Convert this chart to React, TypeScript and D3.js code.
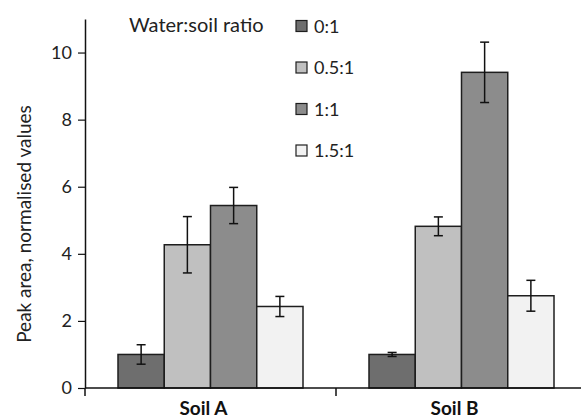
import React, { useEffect, useRef } from 'react';
import * as d3 from 'd3';

const soils = ['Soil A', 'Soil B'];
const ratios = ['0:1', '0.5:1', '1:1', '1.5:1'];
const ratioColors = ['#6e6e6e', '#c0c0c0', '#8c8c8c', '#f2f2f2'];
// values per ratio, in soil order
const means = [
  [1.0, 1.0],
  [4.27, 4.82],
  [5.44, 9.41],
  [2.43, 2.75],
];
const errors = [
  [0.29, 0.06],
  [0.84, 0.28],
  [0.54, 0.9],
  [0.3, 0.46],
];
const yTicks = [0, 2, 4, 6, 8, 10];

const FONT = 'Lato, "Open Sans", sans-serif';

const App = () => {
  const svgRef = useRef<SVGSVGElement>(null);

  useEffect(() => {
    const width = 581;
    const height = 419;
    const margin = { top: 19, right: -6, bottom: 31, left: 85 };
    const innerW = width - margin.left - margin.right;
    const innerH = height - margin.top - margin.bottom;

    const root = d3.select(svgRef.current);
    root.selectAll('*').remove();
    root.attr('width', width).attr('height', height);

    const svg = root
      .append('g')
      .attr('transform', `translate(${margin.left}, ${margin.top})`);

    const x0 = d3.scaleBand().domain(soils).range([0, innerW]).paddingInner(0).paddingOuter(0);
    const x1 = d3
      .scaleBand()
      .domain(ratios)
      .range([33, x0.bandwidth() - 33])
      .padding(0);
    const y = d3.scaleLinear().domain([0, 11]).range([innerH, 0]);

    // bars
    ratios.forEach((r, ri) => {
      soils.forEach((s, si) => {
        const v = means[ri][si];
        const e = errors[ri][si];
        const bx = x0(s)! + x1(r)!;
        svg
          .append('rect')
          .attr('x', bx)
          .attr('y', y(v))
          .attr('width', x1.bandwidth())
          .attr('height', innerH - y(v))
          .attr('fill', ratioColors[ri])
          .attr('stroke', '#1e1e1e')
          .attr('stroke-width', 1.5);

        const cx = bx + x1.bandwidth() / 2;
        const g = svg.append('g').attr('stroke', '#111').attr('stroke-width', 1.5);
        g.append('line').attr('x1', cx).attr('x2', cx).attr('y1', y(v + e)).attr('y2', y(v - e));
        g.append('line').attr('x1', cx - 4.5).attr('x2', cx + 4.5).attr('y1', y(v + e)).attr('y2', y(v + e));
        g.append('line').attr('x1', cx - 4.5).attr('x2', cx + 4.5).attr('y1', y(v - e)).attr('y2', y(v - e));
      });
    });

    // y axis
    const yAxis = svg
      .append('g')
      .call(d3.axisLeft(y).tickValues(yTicks).tickSize(7).tickPadding(6).tickSizeOuter(0));
    yAxis.select('.domain').attr('stroke', '#111').attr('stroke-width', 1.5);
    yAxis.selectAll('.tick line').attr('stroke', '#111').attr('stroke-width', 1.2);
    yAxis
      .selectAll('.tick text')
      .attr('fill', '#222')
      .style('font-family', FONT)
      .style('font-size', '18px');
    // y axis extends a little below zero
    svg
      .append('line')
      .attr('x1', 0)
      .attr('x2', 0)
      .attr('y1', innerH)
      .attr('y2', innerH + 8)
      .attr('stroke', '#111')
      .attr('stroke-width', 1.5);

    // x axis
    svg
      .append('line')
      .attr('x1', 0)
      .attr('x2', innerW)
      .attr('y1', innerH)
      .attr('y2', innerH)
      .attr('stroke', '#111')
      .attr('stroke-width', 1.5);
    soils.slice(1).forEach(s => {
      svg
        .append('line')
        .attr('x1', x0(s)!)
        .attr('x2', x0(s)!)
        .attr('y1', innerH)
        .attr('y2', innerH + 8)
        .attr('stroke', '#111')
        .attr('stroke-width', 1.5);
    });
    svg
      .selectAll('.xlabel')
      .data(soils)
      .enter()
      .append('text')
      .attr('x', d => x0(d)! + x0.bandwidth() / 2 - 7)
      .attr('y', innerH + 27)
      .attr('text-anchor', 'middle')
      .attr('fill', '#111')
      .style('font-family', FONT)
      .style('font-size', '19px')
      .style('font-weight', 'bold')
      .text(d => d);

    // y label
    root
      .append('text')
      .attr('transform', `translate(31, 224) rotate(-90)`)
      .attr('text-anchor', 'middle')
      .attr('fill', '#222')
      .style('font-family', FONT)
      .style('font-size', '19px')
      .text('Peak area, normalised values');

    // legend
    root
      .append('text')
      .attr('x', 129)
      .attr('y', 32)
      .attr('fill', '#222')
      .style('font-family', FONT)
      .style('font-size', '20px')
      .text('Water:soil ratio');

    const legend = root
      .selectAll('.legend')
      .data(ratios)
      .enter()
      .append('g')
      .attr('transform', (d, i) => `translate(296, ${26 + i * 41.5})`);
    legend
      .append('rect')
      .attr('x', 0)
      .attr('y', -5.5)
      .attr('width', 11)
      .attr('height', 11)
      .attr('fill', (d, i) => ratioColors[i])
      .attr('stroke', '#1e1e1e')
      .attr('stroke-width', 1.2);
    legend
      .append('text')
      .attr('x', 18)
      .attr('y', 6.5)
      .attr('fill', '#222')
      .style('font-family', FONT)
      .style('font-size', '18px')
      .text(d => d);
  }, []);

  return <svg ref={svgRef} style={{ position: 'absolute', left: 0, top: 0 }}></svg>;
};

export default App;
